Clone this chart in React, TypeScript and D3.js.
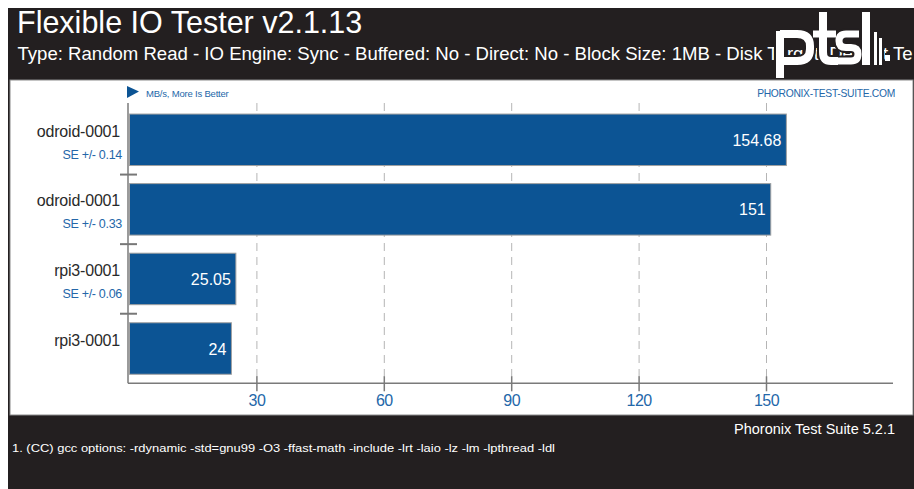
import React from "react";
import * as d3 from "d3";

const categories = ["odroid-0001 a", "odroid-0001 b", "rpi3-0001 a", "rpi3-0001 b"];
const names = ["odroid-0001", "odroid-0001", "rpi3-0001", "rpi3-0001"];
const values = [154.68, 151, 25.05, 24];
const valueLabels = ["154.68", "151", "25.05", "24"];
const seLabels = ["SE +/- 0.14", "SE +/- 0.33", "SE +/- 0.06", ""];
const ticks = [30, 60, 90, 120, 150];

const title = "Flexible IO Tester v2.1.13";
const subtitle =
  "Type: Random Read - IO Engine: Sync - Buffered: No - Direct: No - Block Size: 1MB - Disk Target: Default Te";
const unitText = "MB/s, More Is Better";
const siteText = "PHORONIX-TEST-SUITE.COM";
const versionText = "Phoronix Test Suite 5.2.1";
const noteText =
  "1. (CC) gcc options: -rdynamic -std=gnu99 -O3 -ffast-math -include -lrt -laio -lz -lm -lpthread -ldl";

const DARK = "#231f20";
const BAR = "#0c5494";
const BLUE = "#2467a9";
const FONT = "'Liberation Sans', Arial, Helvetica, sans-serif";

export default function App() {
  const x = d3.scaleLinear().domain([0, 180]).range([129.5, 893.9]);
  const y = d3
    .scaleBand<string>()
    .domain(categories)
    .range([105, 383.3])
    .paddingInner(0.26)
    .paddingOuter(0.13);
  const step = y.step();
  const top = 103;
  const axisY = 383.3;
  const axisX = 128;

  const logoPaths = [
    { d: "M780,31 V78", w: 8 },
    { d: "M780,34 H797 Q810,34 810,46 V49 Q810,61 797,61 H780", w: 8 },
    { d: "M823,12 V52 Q823,61 831,61 H838", w: 8 },
    { d: "M813,34 H836", w: 7 },
    { d: "M859,34 H846 Q839,34 839,41 Q839,47.5 846,47.5 H851 Q858,47.5 858,54 Q858,61 851,61 H838", w: 7 },
    { d: "M866,12 V65", w: 8 },
    { d: "M875.5,32 V65", w: 3 },
    { d: "M880.5,38 V65", w: 3 },
    { d: "M885,58 H890", w: 6 },
  ];

  return (
    <svg
      width={914}
      height={489}
      style={{ display: "block", position: "absolute", left: 0, top: 0 }}
      fontFamily={FONT}
    >
      <rect x={0} y={0} width={914} height={489} fill="#ffffff" />
      <rect x={8} y={8} width={906} height={481} fill={DARK} />
      {/* header */}
      <text x={17} y={33} fill="#ffffff" fontSize={30.5}>
        {title}
      </text>
      <text x={17.5} y={59.5} fill="#ffffff" fontSize={18.5} textLength={895} lengthAdjust="spacingAndGlyphs">
        {subtitle}
      </text>
      {/* logo */}
      <g>
        {logoPaths.map((p, i) => (
          <path key={"o" + i} d={p.d} fill="none" stroke={DARK} strokeWidth={p.w + 4} strokeLinejoin="round" />
        ))}
        {logoPaths.map((p, i) => (
          <path key={"w" + i} d={p.d} fill="none" stroke="#ffffff" strokeWidth={p.w} strokeLinejoin="round" />
        ))}
      </g>

      {/* panel */}
      <rect x={10} y={80} width={903} height={335} fill="#ffffff" stroke="#8a8a8a" strokeWidth={1} />

      {/* top captions */}
      <path d={`M${axisX - 1},86 L${axisX + 11},91.5 L${axisX - 1},98 Z`} fill={BAR} />
      <text x={146} y={96.5} fill={BLUE} fontSize={9.5} letterSpacing={-0.2}>
        {unitText}
      </text>
      <text x={895} y={96.5} fill={BLUE} fontSize={10.3} textAnchor="end" letterSpacing={-0.3}>
        {siteText}
      </text>

      {/* grid */}
      {ticks.map((t) => (
        <line
          key={"g" + t}
          x1={x(t)}
          x2={x(t)}
          y1={top}
          y2={axisY}
          stroke="#b5b5b5"
          strokeWidth={1}
          strokeDasharray="8,6"
        />
      ))}

      {/* bars */}
      {categories.map((c, i) => {
        const by = y(c)!;
        const bh = y.bandwidth();
        const cy = by + bh / 2;
        return (
          <g key={c}>
            <rect
              x={x(0)}
              y={by}
              width={x(values[i]) - x(0)}
              height={bh}
              fill={BAR}
              stroke="#a0a0a0"
              strokeWidth={1}
            />
            <text x={x(values[i]) - 5} y={cy + 6} fill="#ffffff" fontSize={16} textAnchor="end">
              {valueLabels[i]}
            </text>
            <text x={120} y={cy - 3} fill="#2a2a2a" fontSize={16} textAnchor="end" letterSpacing={-0.2}>
              {names[i]}
            </text>
            {seLabels[i] && (
              <text x={122} y={cy + 19} fill={BLUE} fontSize={12.5} textAnchor="end" letterSpacing={-0.3}>
                {seLabels[i]}
              </text>
            )}
          </g>
        );
      })}

      {/* row separators */}
      {categories.slice(0, -1).map((c) => {
        const sy = y(c)! - step * 0.13 + step;
        return <line key={"s" + c} x1={120} x2={137} y1={sy} y2={sy} stroke="#777777" strokeWidth={2} />;
      })}

      {/* axes */}
      <line x1={axisX} x2={axisX} y1={top} y2={axisY} stroke="#7a7a7a" strokeWidth={1.5} />
      <line x1={axisX} x2={893} y1={axisY} y2={axisY} stroke="#7a7a7a" strokeWidth={1.5} />
      {ticks.map((t) => (
        <g key={"t" + t}>
          <line x1={x(t)} x2={x(t)} y1={axisY - 7} y2={axisY + 8} stroke="#7a7a7a" strokeWidth={1.5} />
          <text x={x(t)} y={406} fill={BLUE} fontSize={16} textAnchor="middle" letterSpacing={-0.5}>
            {t}
          </text>
        </g>
      ))}

      {/* footer */}
      <text x={895} y={434} fill="#ffffff" fontSize={14.5} textAnchor="end">
        {versionText}
      </text>
      <text x={12} y={452} fill="#ffffff" fontSize={11} textLength={543} lengthAdjust="spacingAndGlyphs">
        {noteText}
      </text>
    </svg>
  );
}
